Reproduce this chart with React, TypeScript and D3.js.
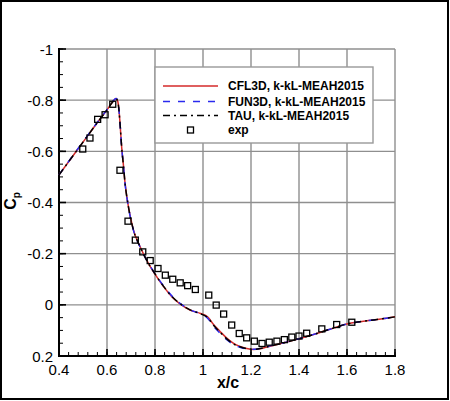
import React from "react";
import * as d3 from "d3";

const xTicks = [0.4, 0.6, 0.8, 1.0, 1.2, 1.4, 1.6, 1.8];
const xTickLabels = ["0.4", "0.6", "0.8", "1", "1.2", "1.4", "1.6", "1.8"];
const yTicks = [-1, -0.8, -0.6, -0.4, -0.2, 0, 0.2];
const yTickLabels = ["-1", "-0.8", "-0.6", "-0.4", "-0.2", "0", "0.2"];

const cflX = [0.4, 0.45, 0.5, 0.55, 0.6, 0.625, 0.6375, 0.645, 0.65, 0.655, 0.661, 0.668, 0.675, 0.689, 0.71, 0.7375, 0.772, 0.8, 0.835, 0.87, 0.904, 0.946, 0.99, 1.02, 1.043, 1.071, 1.099, 1.126, 1.154, 1.182, 1.21, 1.2375, 1.265, 1.321, 1.376, 1.432, 1.4875, 1.543, 1.599, 1.654, 1.71, 1.765, 1.8];
const cflCp = [-0.508, -0.572, -0.636, -0.7, -0.762, -0.795, -0.807, -0.795, -0.76, -0.7, -0.618, -0.55, -0.478, -0.385, -0.293, -0.228, -0.163, -0.12, -0.072, -0.032, -0.004, 0.02, 0.034, 0.048, 0.076, 0.104, 0.13, 0.15, 0.163, 0.171, 0.175, 0.172, 0.165, 0.152, 0.139, 0.124, 0.108, 0.091, 0.075, 0.066, 0.059, 0.052, 0.047];
const funCp = [-0.508, -0.573, -0.637, -0.701, -0.763, -0.796, -0.807, -0.795, -0.76, -0.7, -0.616, -0.548, -0.476, -0.384, -0.292, -0.227, -0.164, -0.122, -0.075, -0.035, -0.006, 0.019, 0.036, 0.053, 0.083, 0.111, 0.136, 0.155, 0.166, 0.172, 0.174, 0.171, 0.164, 0.152, 0.139, 0.124, 0.108, 0.091, 0.075, 0.066, 0.059, 0.052, 0.047];
const tauCp = [-0.508, -0.572, -0.636, -0.7, -0.762, -0.795, -0.806, -0.794, -0.759, -0.699, -0.617, -0.549, -0.477, -0.385, -0.293, -0.228, -0.163, -0.121, -0.073, -0.033, -0.005, 0.02, 0.035, 0.05, 0.079, 0.107, 0.133, 0.152, 0.164, 0.171, 0.174, 0.171, 0.165, 0.152, 0.139, 0.124, 0.108, 0.091, 0.075, 0.066, 0.059, 0.052, 0.047];

const expX = [0.499, 0.529, 0.561, 0.592, 0.624, 0.654, 0.6875, 0.718, 0.749, 0.78, 0.8125, 0.843, 0.874, 0.905, 0.936, 0.968, 1.024, 1.055, 1.086, 1.1196, 1.151, 1.182, 1.214, 1.246, 1.276, 1.308, 1.339, 1.37, 1.4, 1.432, 1.495, 1.557, 1.62];
const expCp = [-0.609, -0.652, -0.725, -0.743, -0.784, -0.526, -0.327, -0.253, -0.207, -0.173, -0.142, -0.116, -0.1, -0.086, -0.075, -0.06, -0.038, 0.001, 0.036, 0.079, 0.112, 0.129, 0.142, 0.151, 0.146, 0.142, 0.136, 0.126, 0.122, 0.111, 0.094, 0.077, 0.068];

const legendLabels = ["CFL3D, k-kL-MEAH2015", "FUN3D, k-kL-MEAH2015", "TAU, k-kL-MEAH2015", "exp"];

const FONT = "'Liberation Sans', Arial, Helvetica, sans-serif";

export default function App() {
  const x = d3.scaleLinear().domain([0.4, 1.8]).range([59, 395]);
  const y = d3.scaleLinear().domain([-1, 0.2]).range([49, 356]);
  const line = d3
    .line<number>()
    .x((_, i) => x(cflX[i]))
    .y((d) => y(d))
    .curve(d3.curveMonotoneX);

  const xMinor = d3.range(0.4, 1.8001, 0.04).map((v) => +v.toFixed(2));
  const yMinor = d3.range(-1, 0.2001, 0.05).map((v) => +v.toFixed(2));
  const legendY = [86, 101.5, 115.5, 130];
  const series = [
    { data: cflCp, color: "#d42a2a", dash: undefined },
    { data: funCp, color: "#2a2aee", dash: "7,8" },
    { data: tauCp, color: "#000000", dash: "7,4,2,4" },
  ];

  return (
    <svg width={450} height={401} style={{ position: "absolute", left: 0, top: 0, background: "#fff" }} fontFamily={FONT}>
      <rect x={1} y={1} width={447} height={398} fill="#fff" stroke="#000" strokeWidth={2} />
      {/* grid */}
      {xTicks.map((t) => (
        <line key={"gx" + t} x1={x(t)} x2={x(t)} y1={y(-1)} y2={y(0.2)} stroke="#8f8f8f" strokeWidth={1.4} />
      ))}
      {yTicks.map((t) => (
        <line key={"gy" + t} x1={x(0.4)} x2={x(1.8)} y1={y(t)} y2={y(t)} stroke="#8f8f8f" strokeWidth={1.4} />
      ))}
      {/* minor ticks */}
      {xMinor.map((t) => (
        <line key={"mx" + t} x1={x(t)} x2={x(t)} y1={y(0.2)} y2={y(0.2) - 4} stroke="#000" strokeWidth={1} />
      ))}
      {yMinor.map((t) => (
        <line key={"my" + t} x1={x(0.4)} x2={x(0.4) + 4} y1={y(t)} y2={y(t)} stroke="#000" strokeWidth={1} />
      ))}
      {xTicks.map((t) => (
        <line key={"tx" + t} x1={x(t)} x2={x(t)} y1={y(0.2)} y2={y(0.2) - 7} stroke="#000" strokeWidth={1.6} />
      ))}
      {yTicks.map((t) => (
        <line key={"ty" + t} x1={x(0.4)} x2={x(0.4) + 7} y1={y(t)} y2={y(t)} stroke="#000" strokeWidth={1.6} />
      ))}
      {/* axes */}
      <line x1={x(0.4)} x2={x(0.4)} y1={y(-1) - 1} y2={y(0.2) + 1} stroke="#000" strokeWidth={2} />
      <line x1={x(0.4) - 1} x2={x(1.8) + 1} y1={y(0.2)} y2={y(0.2)} stroke="#000" strokeWidth={2} />
      {/* tick labels */}
      {xTicks.map((t, i) => (
        <text key={"lx" + t} x={x(t)} y={375} textAnchor="middle" fontSize={15} fill="#000">
          {xTickLabels[i]}
        </text>
      ))}
      {yTicks.map((t, i) => (
        <text key={"ly" + t} x={53} y={y(t) + 5.5} textAnchor="end" fontSize={15} fill="#000">
          {yTickLabels[i]}
        </text>
      ))}
      {/* axis titles */}
      <text x={228} y={388} textAnchor="middle" fontSize={16} fontWeight="bold">x/c</text>
      <text transform="translate(16,201) rotate(-90)" textAnchor="middle" fontSize={16} fontWeight="bold">
        C<tspan fontSize={10} dy={4}>p</tspan>
      </text>
      {/* series */}
      {series.map((s, i) => (
        <path key={"s" + i} d={line(s.data) || ""} fill="none" stroke={s.color} strokeWidth={1.5} strokeDasharray={s.dash} />
      ))}
      {expX.map((v, i) => (
        <rect key={"e" + i} x={x(v) - 3} y={y(expCp[i]) - 3} width={6} height={6} fill="none" stroke="#000" strokeWidth={1.3} />
      ))}
      {/* legend */}
      <rect x={155} y={67} width={218} height={76} fill="#fff" stroke="#999" strokeWidth={1.4} />
      {series.map((s, i) => (
        <line key={"ll" + i} x1={163} x2={218} y1={legendY[i]} y2={legendY[i]} stroke={s.color} strokeWidth={1.5} strokeDasharray={s.dash} />
      ))}
      <rect x={190.5 - 3} y={legendY[3] - 3} width={6} height={6} fill="none" stroke="#000" strokeWidth={1.3} />
      {legendLabels.map((l, i) => (
        <text key={"lt" + i} x={228} y={legendY[i] + 4} fontSize={12} fontWeight="bold" fill="#000">
          {l}
        </text>
      ))}
    </svg>
  );
}
